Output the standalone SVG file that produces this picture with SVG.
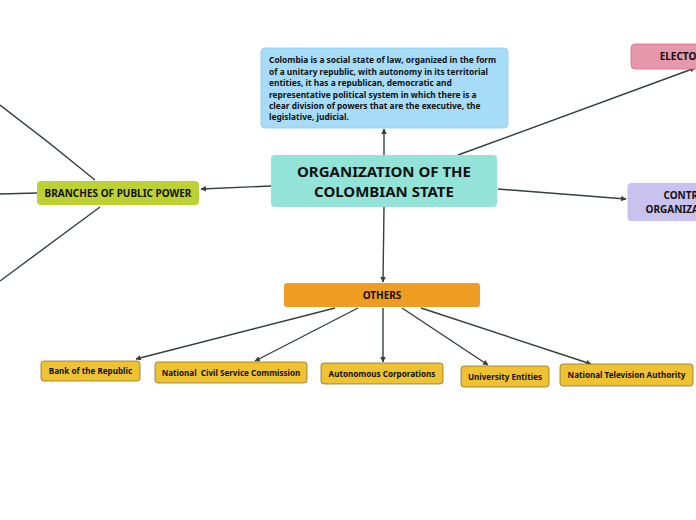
<svg xmlns="http://www.w3.org/2000/svg" width="696" height="520" viewBox="0 0 696 520">
<defs>
<marker id="ah" viewBox="0 0 10 10" refX="9" refY="5" markerWidth="5.5" markerHeight="5.5" orient="auto-start-reverse" markerUnits="userSpaceOnUse">
<path d="M0,0 L10,5 L0,10 Z" fill="#34403a"/>
</marker>
<style>
text{font-family:"Noto Sans","Open Sans","Liberation Sans",sans-serif;font-weight:700;fill:#111;}
.c{stroke:#34403a;stroke-width:1.4;fill:none;}
.a{marker-end:url(#ah);}
.child rect{fill:#efc232;stroke:#8c7232;stroke-width:0.8;}
.child text{font-size:8.1px;text-anchor:middle;white-space:pre;}
.mid{text-anchor:middle;}
</style>
</defs>
<rect width="696" height="520" fill="#fff"/>
<g id="connectors">
<path class="c a" d="M384,155 L384,129"/>
<path class="c a" d="M458,155 L695,68"/>
<path class="c a" d="M498,189 L626,199"/>
<path class="c a" d="M271,186 L201,189"/>
<path class="c a" d="M384,207 L383,282"/>
<path class="c" d="M95,180 Q48,141 0,105"/>
<path class="c" d="M37,193 L0,194"/>
<path class="c" d="M100,207 L0,281"/>
<path class="c a" d="M335,308 L136,359"/>
<path class="c a" d="M358,308 L255,361"/>
<path class="c a" d="M383,308 L383,362"/>
<path class="c a" d="M402,308 L488,365"/>
<path class="c a" d="M421,308 L591,364"/>
</g>
<g id="central">
<rect x="271" y="155" width="226" height="52" rx="4" fill="#93e3d9"/>
<text x="384" y="177" font-size="15" class="mid">ORGANIZATION OF THE</text>
<text x="384" y="197" font-size="15" class="mid">COLOMBIAN STATE</text>
</g>
<g id="info">
<rect x="261" y="48" width="247" height="80" rx="4" fill="#a6dcf8" stroke="#8ccbe8" stroke-width="0.8"/>
<text x="269" font-size="8.4">
<tspan x="269" y="63">Colombia is a social state of law, organized in the form</tspan>
<tspan x="269" y="74.5">of a unitary republic, with autonomy in its territorial</tspan>
<tspan x="269" y="86">entities, it has a republican, democratic and</tspan>
<tspan x="269" y="97.5">representative political system in which there is a</tspan>
<tspan x="269" y="108.5">clear division of powers that are the executive, the</tspan>
<tspan x="269" y="120">legislative, judicial.</tspan>
</text>
</g>
<g id="electoral">
<rect x="631" y="44" width="200" height="25" rx="4" fill="#e597ab" stroke="#e06890" stroke-width="0.8"/>
<text x="728" y="60" font-size="10" class="mid">ELECTORAL ORGANIZATION</text>
</g>
<g id="control">
<rect x="627.5" y="183" width="120" height="38" rx="4" fill="#c9c2ee"/>
<text x="687.5" y="198.5" font-size="10" class="mid">CONTROL</text>
<text x="687.5" y="212.5" font-size="10" class="mid">ORGANIZATIONS</text>
</g>
<g id="branches">
<rect x="37" y="181" width="162" height="24" rx="4" fill="#bdd132"/>
<text x="118" y="197" font-size="10" class="mid">BRANCHES OF PUBLIC POWER</text>
</g>
<g id="others">
<rect x="284" y="283" width="196" height="24" rx="3" fill="#ef9d22"/>
<text x="382" y="299" font-size="10" class="mid">OTHERS</text>
</g>
<g id="bank" class="child">
<rect x="41" y="361" width="99" height="20" rx="3"/>
<text x="90.5" y="374">Bank of the Republic</text>
</g>
<g id="ncsc" class="child">
<rect x="155" y="362" width="152" height="21" rx="3"/>
<text x="231" y="375.5">National  Civil Service Commission</text>
</g>
<g id="autonomous" class="child">
<rect x="321" y="363" width="122" height="21" rx="3"/>
<text x="382" y="376.5">Autonomous Corporations</text>
</g>
<g id="university" class="child">
<rect x="461" y="366" width="88" height="21" rx="3"/>
<text x="505" y="379.5">University Entities</text>
</g>
<g id="nta" class="child">
<rect x="560" y="364" width="133" height="22" rx="3"/>
<text x="626.5" y="378">National Television Authority</text>
</g>
</svg>
